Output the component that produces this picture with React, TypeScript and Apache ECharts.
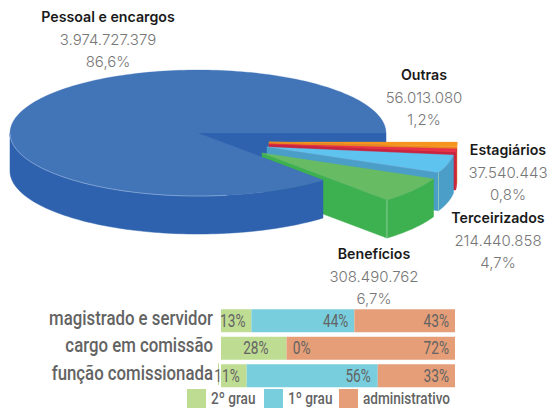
import React, { useEffect, useRef } from "react";
import * as echarts from "echarts";

// Pie data, in the order the slices follow clockwise from the east
const sliceNames = ["Outras", "Estagiários", "Terceirizados", "Benefícios", "Pessoal e encargos"];
const sliceAmounts = [56013080, 37540443, 214440858, 308490762, 3974727379];
const slicePercents = ["1,2%", "0,8%", "4,7%", "6,7%", "86,6%"];

// Stacked bars
const barCategories = ["magistrado e servidor", "cargo em comissão", "função comissionada"];
const legendNames = ["2º grau", "1º grau", "administrativo"];
const grau2 = [13, 28, 11];
const grau1 = [44, 0, 56];
const administrativo = [43, 72, 33];

// Layout and style of the pseudo-3D pie
const CX = 198, CY = 133, RX = 188, RY = 63, DEPTH = 38;
const sliceOffsets = [[71, 9], [71, 11], [69, 14], [64, 20], [0, 0]];
const sliceTop = ["#F7941D", "#E8304A", "#5FC3EF", "#67BC63", "#4274B8"];
const sliceSide = ["#E8871E", "#C8243F", "#4A9EC8", "#3DB04F", "#2E62AE"];
const sliceLabels = [[424, 74.5], [508, 149.5], [498, 217.5], [374, 253.5], [108, 16.5]];
const FONT = "Inter, 'Noto Sans', sans-serif";
const total = sliceAmounts.reduce((a, b) => a + b, 0);

// Layout and style of the bars
const barColors = ["#BFDC93", "#78CEDD", "#E59E77"];
const GREY = "#636363";
const legendSwatchX = [187, 264, 339];
const barStacks = [grau2, grau1, administrativo];
// per stack, per row: shift of the value label from the right end of its segment
const barLabelPad = [[-6, -18, -7], [-6, 24, -7], [-6, -6, -6]];

const fmt = (v: number) => String(v).replace(/\B(?=(\d{3})+(?!\d))/g, ".");

function arc(a0: number, a1: number, ox: number, oy: number) {
  const pts: number[][] = [];
  const n = Math.max(2, Math.ceil((a1 - a0) / 1.5));
  for (let i = 0; i <= n; i++) {
    const t = ((a0 + ((a1 - a0) * i) / n) * Math.PI) / 180;
    pts.push([CX + ox + RX * Math.cos(t), CY + oy + RY * Math.sin(t)]);
  }
  return pts;
}

function renderWall() {
  const fill = sliceSide[4];
  return {
    type: "polygon",
    shape: { points: [[CX, CY], [CX + RX, CY], [CX + RX, CY + DEPTH], [CX, CY + DEPTH]] },
    style: { fill, stroke: fill, lineWidth: 0.5 },
  };
}

function renderSlice(params: any, api: any) {
  const i = params.dataIndex;
  let start = 0;
  for (let k = 0; k < i; k++) start += (sliceAmounts[k] / total) * 360;
  const a0 = start;
  const a1 = start + (api.value(0) / total) * 360;
  const [ox, oy] = sliceOffsets[i];
  const apex = [CX + ox, CY + oy];
  const children: any[] = [];
  const sideStyle = { fill: sliceSide[i], stroke: sliceSide[i], lineWidth: 0.5 };

  const rimEnd = arc(a1, a1, ox, oy)[0];
  if (i < 4) {
    children.push({
      type: "polygon",
      shape: { points: [apex, rimEnd, [rimEnd[0], rimEnd[1] + DEPTH], [apex[0], apex[1] + DEPTH]] },
      style: sideStyle,
    });
  }
  const sa1 = Math.min(a1, 180);
  const rim = arc(a0, sa1, ox, oy);
  children.push({
    type: "polygon",
    shape: { points: [...rim, ...rim.slice().reverse().map((p) => [p[0], p[1] + DEPTH])] },
    style: sideStyle,
  });
  const top = arc(a0, a1, ox, oy);
  const topFill = sliceTop[i];
  children.push({
    type: "polygon",
    shape: { points: [apex, ...top] },
    style: { fill: topFill, stroke: topFill, lineWidth: 0.3 },
  });
  if (i === 4) {
    children.push({
      type: "polyline",
      shape: { points: rim.slice(Math.floor(rim.length * 0.25)) },
      style: { stroke: "#8FB0DD", lineWidth: 0.7, fill: "none" },
    });
  } else if (i >= 2) {
    children.push({
      type: "line",
      shape: { x1: rimEnd[0], y1: rimEnd[1], x2: rimEnd[0], y2: rimEnd[1] + DEPTH },
      style: { stroke: "#A8D8B8", lineWidth: 0.7 },
    });
  }
  const [lx, ly] = sliceLabels[i];
  const textBase = { x: lx, textAlign: "center", textVerticalAlign: "middle", fontFamily: FONT };
  children.push(
    { type: "text", style: { ...textBase, y: ly, text: sliceNames[i], fontSize: 14.2, fontWeight: 600, fill: "#1a1a1a" } },
    { type: "text", style: { ...textBase, y: ly + 23, text: fmt(api.value(0)), fontSize: 15, fontWeight: 300, fill: "#777777" } },
    { type: "text", style: { ...textBase, y: ly + 44.5, text: slicePercents[i], fontSize: 15, fontWeight: 300, fill: "#777777" } }
  );
  return { type: "group", children };
}

// The reference uses a narrow face, so the Roboto text is squeezed horizontally.
function squeezed(text: string, x: number, y: number, fontSize: number, scaleX: number, fontWeight = 400, align = "right") {
  return {
    type: "text",
    x,
    y,
    scaleX,
    style: { x: 0, y: 0, text, textAlign: align, textVerticalAlign: "middle", fontFamily: "Roboto", fontSize, fontWeight, fill: GREY },
  };
}

function renderBarLabel(params: any, api: any) {
  const s = Math.floor(params.dataIndex / barCategories.length);
  const row = params.dataIndex % barCategories.length;
  const p = api.coord([api.value(0), row]);
  return squeezed(api.value(2) + "%", p[0] + barLabelPad[s][row], p[1], 18, 0.76);
}

function renderAxisLabel(params: any, api: any) {
  const p = api.coord([0, params.dataIndex]);
  return squeezed(barCategories[params.dataIndex], p[0] - 8, p[1] - 2.5, 20, 0.84, 500);
}

export default function App() {
  const ref = useRef<HTMLDivElement>(null);
  useEffect(() => {
    const chart = echarts.init(ref.current!, undefined, { renderer: "svg" });
    const labelData: number[][] = [];
    barStacks.forEach((vals, s) => {
      vals.forEach((v, row) => {
        let end = 0;
        for (let k = 0; k <= s; k++) end += barStacks[k][row];
        labelData.push([end, row, v]);
      });
    });
    chart.setOption({
      animation: false,
      textStyle: { fontFamily: "Roboto" },
      grid: { left: 221, top: 307, width: 234, height: 82.5 },
      xAxis: { type: "value", min: 0, max: 100, show: false },
      yAxis: {
        type: "category",
        inverse: true,
        data: barCategories,
        axisLine: { show: false },
        axisTick: { show: false },
        axisLabel: { show: false },
      },
      graphic: [
        { type: "line", shape: { x1: 218.5, y1: 363, x2: 218.5, y2: 385 }, style: { stroke: "#BFDC93", lineWidth: 1 } },
        ...legendNames.flatMap((name, i) => [
          { type: "rect", shape: { x: legendSwatchX[i], y: 389, width: 19, height: 19 }, style: { fill: barColors[i] } },
          squeezed(name, legendSwatchX[i] + 24, 398.5, 17, 0.8, 500, "left"),
        ]),
      ],
      series: [
        { type: "custom", coordinateSystem: "none", silent: true, renderItem: renderWall, data: [[sliceAmounts[4]]], z: 1 },
        { type: "custom", coordinateSystem: "none", silent: true, renderItem: renderSlice, data: sliceAmounts.map((v) => [v]), z: 2 },
        ...barStacks.map((vals, s) => ({
          type: "bar",
          name: legendNames[s],
          stack: "t",
          barWidth: 23,
          itemStyle: { color: barColors[s] },
          data: vals,
        })),
        {
          type: "custom", coordinateSystem: "cartesian2d", silent: true, clip: false, z: 5,
          renderItem: renderBarLabel, encode: { x: 0, y: 1 }, data: labelData,
        },
        {
          type: "custom", coordinateSystem: "cartesian2d", silent: true, clip: false, z: 5,
          renderItem: renderAxisLabel, encode: { x: 0, y: 1 }, data: barCategories.map((_, i) => [0, i]),
        },
      ],
    });
    return () => chart.dispose();
  }, []);
  return <div ref={ref} style={{ position: "absolute", left: 0, top: 0, width: 550, height: 410 }} />;
}
